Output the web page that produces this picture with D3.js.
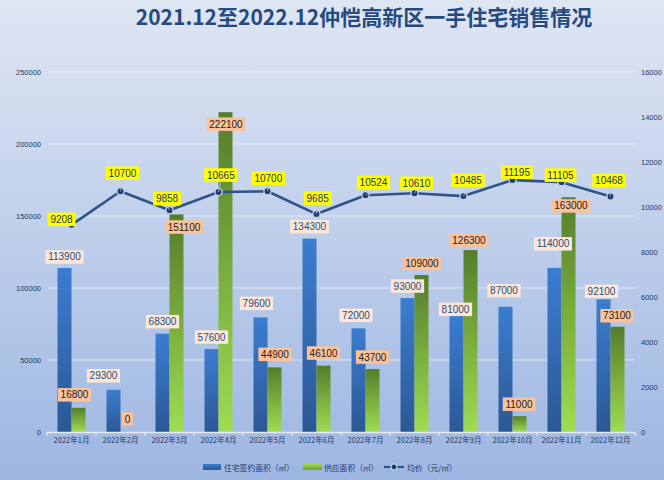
<!DOCTYPE html>
<html><head><meta charset="utf-8">
<script src="https://cdn.jsdelivr.net/npm/d3@7"></script>
<style>html,body{margin:0;padding:0;background:#fff}svg{display:block}</style>
</head><body>
<svg id="chart" width="664" height="480"></svg>
<script>
// ---- data ----
const categories = ["2022年1月","2022年2月","2022年3月","2022年4月","2022年5月","2022年6月","2022年7月","2022年8月","2022年9月","2022年10月","2022年11月","2022年12月"];
const signedArea = [113900,29300,68300,57600,79600,134300,72000,93000,81000,87000,114000,92100];
const supplyArea = [16800,0,151100,222100,44900,46100,43700,109000,126300,11000,163000,73100];
const avgPrice  = [9208,10700,9858,10665,10700,9685,10524,10610,10485,11195,11105,10468];
const leftTicks  = [0,50000,100000,150000,200000,250000];
const rightTicks = [0,2000,4000,6000,8000,10000,12000,14000,16000];
const seriesNames = ["住宅签约面积（㎡）","供应面积（㎡）","均价（元/㎡）"];
const title = "2021.12至2022.12仲恺高新区一手住宅销售情况";

// label placement nudges (dx, dy) relative to each mark's anchor
const signNudge   = [[0,-11],[-10,-14],[0,-12],[0,-12],[-4,-14],[0,-12],[-2.5,-13],[0,-12],[-1,-6],[-1.5,-16],[-1.5,-24],[-2,-8]];
const supplyNudge = [[-4,-13],[0,-13],[7.5,12.6],[0.5,12],[0.5,-13],[0,-12.6],[0,-12],[0.5,-11.5],[-1.5,-10],[-0.5,-12],[2.5,8.7],[-0.5,-11]];
const priceNudge  = [[-10,-5.5],[2,-18],[-2.5,-11.5],[2.3,-17],[0.8,-13],[1.2,-16],[8,-12.7],[2,-10],[4.5,-16],[4.3,-8],[-1,-7],[-1.5,-16]];

// ---- layout ----
const W = 664, H = 480;
const plot = {left:47, right:635, top:72, bottom:432};
const svg = d3.select("#chart");
const defs = svg.append("defs");

const bg = defs.append("linearGradient").attr("id","bg").attr("x1",0).attr("y1",0).attr("x2",0).attr("y2",1);
bg.append("stop").attr("offset","0%").attr("stop-color","#dfe6f3");
bg.append("stop").attr("offset","100%").attr("stop-color","#9db6e2");
const gb = defs.append("linearGradient").attr("id","gBlue").attr("x1",0).attr("y1",0).attr("x2",0).attr("y2",1);
gb.append("stop").attr("offset","0%").attr("stop-color","#3b7dd0");
gb.append("stop").attr("offset","100%").attr("stop-color","#2b5895");
const gg = defs.append("linearGradient").attr("id","gGreen").attr("x1",0).attr("y1",0).attr("x2",0).attr("y2",1);
gg.append("stop").attr("offset","0%").attr("stop-color","#557d2b");
gg.append("stop").attr("offset","100%").attr("stop-color","#9fdc52");
const lgb = defs.append("linearGradient").attr("id","lBlue").attr("x1",0).attr("y1",0).attr("x2",0).attr("y2",1);
lgb.append("stop").attr("offset","0%").attr("stop-color","#3b7dd0");
lgb.append("stop").attr("offset","100%").attr("stop-color","#2b5895");
const lgg = defs.append("linearGradient").attr("id","lGreen").attr("x1",0).attr("y1",0).attr("x2",0).attr("y2",1);
lgg.append("stop").attr("offset","0%").attr("stop-color","#9fdc52");
lgg.append("stop").attr("offset","100%").attr("stop-color","#6a9a36");

svg.append("rect").attr("width",W).attr("height",H).attr("fill","url(#bg)");

// title
svg.append("text").attr("x",364).attr("y",25).attr("text-anchor","middle")
  .attr("font-family","'Noto Sans CJK SC', sans-serif").attr("font-weight","bold")
  .attr("font-size",21).attr("fill","#254a80").text(title);

// scales
const x = d3.scaleBand().domain(categories).range([plot.left, plot.right]);
const xs = d3.scaleBand().domain(["sign","supply"]).range([0, x.bandwidth()]).paddingOuter(0.75);
const yL = d3.scaleLinear().domain([0,250000]).range([plot.bottom, plot.top]);
const yR = d3.scaleLinear().domain([0,16000]).range([plot.bottom, plot.top]);

// gridlines
svg.append("g").selectAll("line").data(leftTicks.filter(d=>d>0)).join("line")
  .attr("x1",plot.left+1).attr("x2",plot.right).attr("y1",d=>yL(d)).attr("y2",d=>yL(d))
  .attr("stroke","#eef3fb").attr("stroke-opacity",0.75).attr("stroke-width",1);

// axes
const tickFont = "'Liberation Sans', Arial, sans-serif";
const gL = svg.append("g").attr("transform",`translate(${plot.left},0)`)
  .call(d3.axisLeft(yL).tickValues(leftTicks).tickSize(0).tickPadding(6).tickFormat(d3.format("d")));
gL.select(".domain").remove();
gL.selectAll("text").attr("font-family",tickFont).attr("font-size",7.5).attr("fill","#1f3864");
const gR = svg.append("g").attr("transform",`translate(${plot.right},0)`)
  .call(d3.axisRight(yR).tickValues(rightTicks).tickSize(0).tickPadding(6).tickFormat(d3.format("d")));
gR.select(".domain").remove();
gR.selectAll("text").attr("font-family",tickFont).attr("font-size",7.5).attr("fill","#1f3864");

// bars
const bars = svg.append("g");
bars.selectAll("rect.sign").data(signedArea).join("rect").attr("class","sign")
  .attr("x",(d,i)=>x(categories[i])+xs("sign")).attr("width",xs.bandwidth())
  .attr("y",d=>yL(d)).attr("height",d=>plot.bottom-yL(d)).attr("fill","url(#gBlue)");
bars.selectAll("rect.supply").data(supplyArea).join("rect").attr("class","supply")
  .attr("x",(d,i)=>x(categories[i])+xs("supply")).attr("width",xs.bandwidth())
  .attr("y",d=>yL(d)).attr("height",d=>plot.bottom-yL(d)).attr("fill","url(#gGreen)");

// x axis
const gX = svg.append("g").attr("transform",`translate(0,${plot.bottom})`)
  .call(d3.axisBottom(x).tickSize(0).tickPadding(6));
gX.select(".domain").remove();
gX.selectAll("text").attr("font-family","'Noto Sans CJK SC', sans-serif").attr("font-size",7.5).attr("fill","#1f3864");
svg.append("line").attr("x1",plot.left).attr("x2",plot.right).attr("y1",plot.bottom+0.5).attr("y2",plot.bottom+0.5)
  .attr("stroke","#e6ecf6").attr("stroke-width",1.5);
const bounds = categories.map(c=>x(c)).concat([x.range()[1]]);
svg.append("g").selectAll("line").data(bounds).join("line")
  .attr("x1",d=>d).attr("x2",d=>d).attr("y1",plot.bottom).attr("y2",plot.bottom+4)
  .attr("stroke","#e6ecf6").attr("stroke-width",1.2);

// price line
const cx = (i)=>x(categories[i])+x.bandwidth()/2;
const line = d3.line().x((d,i)=>cx(i)).y(d=>yR(d));
svg.append("path").datum(avgPrice).attr("d",line).attr("fill","none")
  .attr("stroke","#2f5489").attr("stroke-width",2.6).attr("stroke-linejoin","round");
svg.append("g").selectAll("circle").data(avgPrice).join("circle")
  .attr("cx",(d,i)=>cx(i)).attr("cy",d=>yR(d)).attr("r",3.6)
  .attr("fill","#1f3f73").attr("stroke","#c9d2e3").attr("stroke-width",1.3);

// data labels
const lblFont = "'Liberation Sans', Arial, sans-serif";
function addLabels(values, anchorX, anchorY, nudge, fill, color){
  const g = svg.append("g");
  values.forEach((v,i)=>{
    const ax = anchorX(i), ay = anchorY(v);
    const lx = ax + nudge[i][0], ly = ay + nudge[i][1];
    const t = g.append("text").attr("x",lx).attr("y",ly).attr("text-anchor","middle")
      .attr("dominant-baseline","central").attr("font-family",lblFont).attr("font-size",10)
      .attr("fill",color).text(String(v));
    const bb = t.node().getBBox();
    const bw = bb.width + 5, bh = 13.5;
    // leader line when label is far from its anchor
    if (ay - (ly + bh/2) > 3) {
      g.insert("line","text").attr("x1",lx).attr("y1",ly+bh/2).attr("x2",ax).attr("y2",ay)
        .attr("stroke","#a9c1e3").attr("stroke-width",0.8);
    }
    g.insert("rect","text").attr("x",lx-bw/2).attr("y",ly-bh/2).attr("width",bw).attr("height",bh).attr("fill",fill);
  });
}
addLabels(signedArea, i=>x(categories[i])+xs("sign")+xs.bandwidth()/2, v=>yL(v), signNudge, "#fce6d8", "#1f4e79");
addLabels(supplyArea, i=>x(categories[i])+xs("supply")+xs.bandwidth()/2, v=>yL(v), supplyNudge, "#f8c29c", "#2a2015");
addLabels(avgPrice, cx, v=>yR(v), priceNudge, "#ffff00", "#1f3864");

// legend
const lg = svg.append("g");
const legFont = "'Noto Sans CJK SC', sans-serif";
lg.append("rect").attr("x",203).attr("y",464).attr("width",18).attr("height",6).attr("fill","url(#lBlue)");
lg.append("text").attr("x",224).attr("y",467).attr("dominant-baseline","central").attr("font-family",legFont)
  .attr("font-size",7.8).attr("fill","#1f3864").text(seriesNames[0]);
lg.append("rect").attr("x",303).attr("y",464).attr("width",19).attr("height",6).attr("fill","url(#lGreen)");
lg.append("text").attr("x",324).attr("y",467).attr("dominant-baseline","central").attr("font-family",legFont)
  .attr("font-size",7.8).attr("fill","#1f3864").text(seriesNames[1]);
lg.append("line").attr("x1",384).attr("x2",404).attr("y1",467).attr("y2",467).attr("stroke","#2f5489").attr("stroke-width",2.2);
lg.append("circle").attr("cx",394).attr("cy",467).attr("r",3).attr("fill","#1f3f73").attr("stroke","#c9d2e3").attr("stroke-width",1.2);
lg.append("text").attr("x",407).attr("y",467).attr("dominant-baseline","central").attr("font-family",legFont)
  .attr("font-size",7.8).attr("fill","#1f3864").text(seriesNames[2]);
</script>
</body></html>
